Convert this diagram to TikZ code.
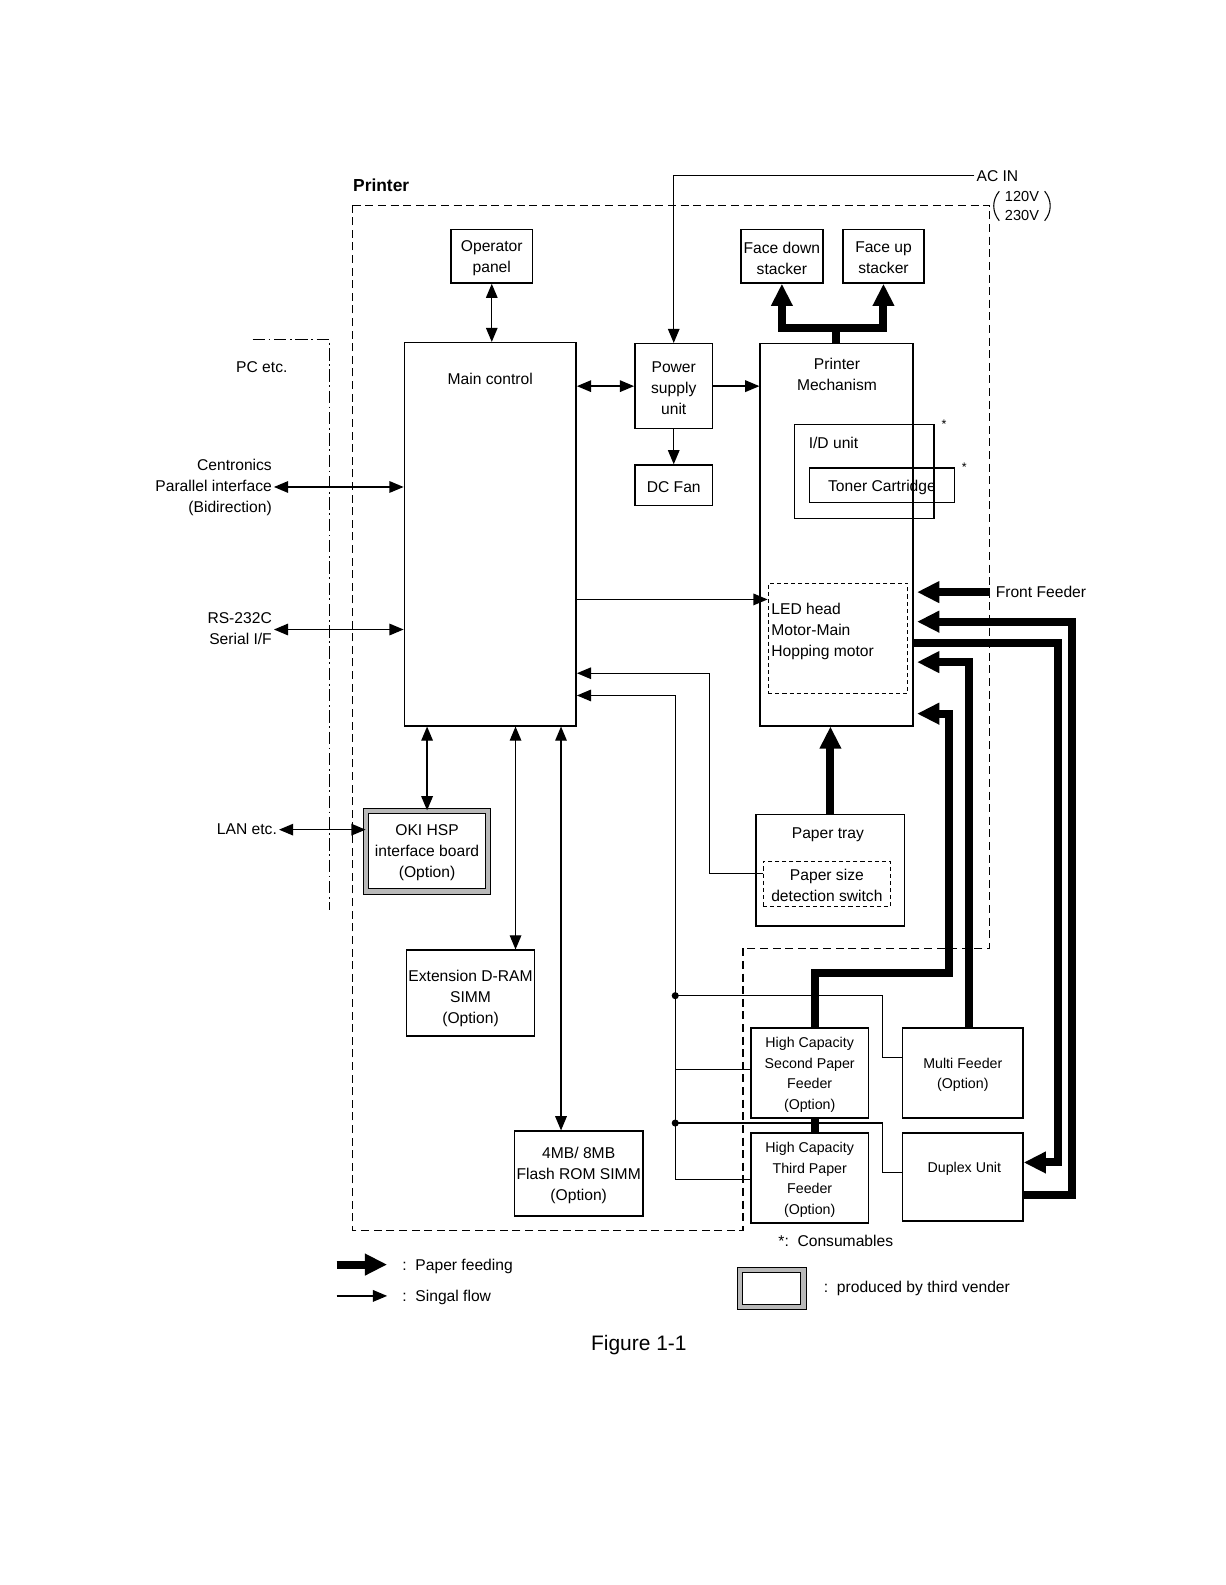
\documentclass[tikz,border=0pt]{standalone}
\usepackage{fontspec}
\setmainfont{Liberation Sans}
\usetikzlibrary{arrows.meta,fit}

\tikzset{
  box/.style={draw, line width=0.8pt, inner sep=0pt},
  dbox/.style={draw, line width=0.7pt, dash pattern=on 2.3pt off 1.7pt, inner sep=0pt},
  vendorbox/.style={draw, line width=0.6pt, double=gray!55, double distance=2.4pt, inner sep=-0.064cm},
  txt/.style={inner sep=1pt, align=center, yshift=-1pt},
  sig/.style={line width=0.8pt, -{Triangle[length=8pt,width=6.5pt]}},
  bisig/.style={line width=0.8pt, {Triangle[length=8pt,width=6.5pt]}-{Triangle[length=8pt,width=6.5pt]}},
  wire/.style={line width=0.8pt},
  feed/.style={line width=4.5pt, -{Triangle[length=12.5pt,width=11.5pt]}},
  feedline/.style={line width=4.5pt},
  frame/.style={line width=0.7pt, dash pattern=on 4.5pt off 2.6pt},
  small/.style={font=\fontsize{8}{11.7}\selectfont}
}

\begin{document}
\begin{tikzpicture}[x=0.02cm, y=-0.02cm, font=\fontsize{8.8}{11.9}\selectfont]
  \useasboundingbox (0,0) rectangle (1212,1568);

  \draw[frame] (349,203) -- (979,203) -- (979,938) -- (735,938) -- (735,1217) -- (349,1217) -- cycle;
  \node[anchor=west, inner sep=0pt, font=\fontsize{9.8}{12}\selectfont\bfseries] (printer) at (349,183) {Printer};
  \draw[line width=0.7pt, dash pattern=on 7pt off 2pt on 1pt off 2pt] (250,336) -| (326,900);
  \node[txt] (pc) at (259,361) {PC etc.};

  \node[box, fit={(446,227) (527,280)}] (panel) {};
  \node[txt] (panellbl) at (panel) {Operator\\panel};
  \node[box, fit={(733,227) (814,280)}] (fdown) {};
  \node[txt] (fdownlbl) at (fdown) {Face down\\stacker};
  \node[box, fit={(834,227) (914,280)}] (fup) {};
  \node[txt] (fuplbl) at (fup) {Face up\\stacker};
  \node[box, fit={(400,339) (570,718)}] (main) {};
  \node[txt] (mainlbl) at (485,373) {Main control};
  \node[box, fit={(628,340) (705,424)}] (psu) {};
  \node[txt] (psulbl) at (psu) {Power\\supply\\unit};
  \node[box, fit={(628,460) (705,500)}] (fan) {};
  \node[txt] (fanlbl) at (fan) {DC Fan};
  \node[box, fit={(752,340) (903,718)}] (mech) {};
  \node[txt] (mechlbl) at (828,368.5) {Printer\\Mechanism};
  \node[box, fit={(786,420) (924,513)}] (idu) {};
  \node[txt, anchor=west] (idulbl) at (798,436) {I/D unit};
  \node[box, fit={(801,463) (944,497)}] (toner) {};
  \node[txt] (tonerlbl) at (toner) {Toner Cartridge};
  \node[txt, font=\fontsize{7}{8}\selectfont] (star1) at (934,418) {*};
  \node[txt, font=\fontsize{7}{8}\selectfont] (star2) at (954,460) {*};
  \node[dbox, fit={(760,577) (898,686)}] (led) {};
  \node[txt, anchor=west, align=left] (ledlbl) at (761,623) {LED head\\Motor-Main\\Hopping motor};
  \node[box, fit={(748,806) (895,916)}] (tray) {};
  \node[txt] (traylbl) at (819,824) {Paper tray};
  \node[dbox, fit={(755,852) (881,897)}] (sizesw) {};
  \node[txt] (sizeswlbl) at (sizesw) {Paper size\\detection switch};
  \node[vendorbox, fit={(359,799) (486,885)}] (hsp) {};
  \node[txt] (hsplbl) at (hsp) {OKI HSP\\interface board\\(Option)};
  \node[box, fit={(402,940) (529,1025)}] (dram) {};
  \node[txt] (dramlbl) at ([yshift=-2pt]dram.center) {Extension D-RAM\\SIMM\\(Option)};
  \node[box, fit={(509,1119) (636,1203)}] (flash) {};
  \node[txt] (flashlbl) at (flash) {4MB/ 8MB\\Flash ROM SIMM\\(Option)};
  \node[box, fit={(743,1017) (859,1106)}] (hc2) {};
  \node[txt, small] (hc2lbl) at (hc2) {High Capacity\\Second Paper\\Feeder\\(Option)};
  \node[box, fit={(743,1121) (859,1210)}] (hc3) {};
  \node[txt, small] (hc3lbl) at (hc3) {High Capacity\\Third Paper\\Feeder\\(Option)};
  \node[box, fit={(893,1017) (1012,1106)}] (multi) {};
  \node[txt, small] (multilbl) at (multi) {Multi Feeder\\(Option)};
  \node[box, fit={(893,1121) (1012,1208)}] (duplex) {};
  \node[txt, small] (duplbl) at (954,1155) {Duplex Unit};

  \node[txt, anchor=west] (acin) at (964,172) {AC IN};
  \node[txt, inner xsep=4pt, font=\fontsize{8.2}{10.4}\selectfont] (volt) at (1011,202) {120V\\230V};
  \draw[line width=0.6pt] ([xshift=1pt,yshift=-1pt]volt.north west) to[bend right=40] ([xshift=1pt,yshift=1pt]volt.south west);
  \draw[line width=0.6pt] ([xshift=-1pt,yshift=-1pt]volt.north east) to[bend left=40] ([xshift=-1pt,yshift=1pt]volt.south east);
  \draw[sig] (acin.west) -| (psu.north);
  \draw[bisig] (panel.south) -- (panel.south |- main.north);
  \draw[bisig] (main.east |- psu.west) -- (psu.west);
  \draw[sig] (psu.east) -- (psu.east -| mech.west);
  \draw[sig] (psu.south) -- (fan.north);
  \draw[sig] (main.east |- 0,593) -- (led.west |- 0,593);
  \draw[sig] (sizesw.west |- 0,864) -| (702,666) -- (main.east |- 0,666);

  \coordinate (bustop) at (668,688);
  \coordinate (tapm) at (668,985);
  \coordinate (tapd) at (668,1111);
  \draw[sig] (hc3.west |- 0,1167) -| (bustop) -- (main.east |- bustop);
  \draw[wire] (hc2.west |- 0,1058) -- (bustop |- 0,1058);
  \draw[wire] (tapm) -| (873,1046) -- (multi.west |- 0,1046);
  \draw[wire] (tapd) -| (873,1160) -- (duplex.west |- 0,1160);
  \fill (tapm) circle (2pt) (tapd) circle (2pt);

  \draw[bisig] (hsp.north) -- (hsp.north |- main.south);
  \draw[bisig] (dram.north -| 510,0) -- (main.south -| 510,0);
  \draw[bisig] (flash.north -| 555,0) -- (main.south -| 555,0);

  \node[txt, anchor=east] (cent) at (271,480) {\begin{tabular}{@{}r@{}}Centronics\\Parallel interface\\(Bidirection)\end{tabular}};
  \draw[bisig] (cent.east) -- (main.west |- cent.east);
  \node[txt, anchor=east] (rs) at (271,621) {\begin{tabular}{@{}r@{}}RS-232C\\Serial I/F\end{tabular}};
  \draw[bisig] (rs.east) -- (main.west |- rs.east);
  \node[txt, anchor=east] (lan) at (276,819) {LAN etc.};
  \draw[bisig] (lan.east) -- (hsp.west |- lan.east);

  \draw[feed] (mech.north) -- ++(0,-15) -| (fdown.south);
  \draw[feed] (mech.north) -- ++(0,-15) -| (fup.south);
  \draw[feed] (tray.north) -- (tray.north |- mech.south);
  \node[txt, anchor=west] (fflbl) at (983,584) {Front Feeder};
  \draw[feed, shorten >=2pt] ([xshift=-0.08cm]fflbl.west) -- (mech.east |- fflbl.west);
  \draw[feed, shorten >=2pt] (duplex.east |- 0,1182) -| (1060,615) -- (mech.east |- 0,615);
  \draw[feed] (mech.east |- 0,636) -| (1047,1150) -- (duplex.east |- 0,1150);
  \draw[feed, shorten >=2pt] (multi.north -| 959,0) |- (mech.east |- 0,655);
  \draw[feed, shorten >=2pt] (hc2.north -| 806,0) -- (806,963) -| (939,706) -- (mech.east |- 0,706);
  \draw[feedline] (hc3.north -| 806,0) -- (hc2.south -| 806,0);

  \node[txt, anchor=west] (legcons) at (768,1226) {*:\ \ Consumables};
  \coordinate (legf) at (333,1251);
  \coordinate (legs) at (333,1282);
  \draw[feed] (legf) -- ++(50,0);
  \draw[sig] (legs) -- ++(50,0);
  \node[txt, anchor=west] (legfeed) at (396,1251) {:\ \ Paper feeding};
  \node[txt, anchor=west] (legsig) at (396,1282) {:\ \ Singal flow};
  \node[vendorbox, fit={(729,1253) (798,1296)}] (legbox) {};
  \node[txt, anchor=west] (legvendor) at (813,1273) {:\ \ produced by third vender};
  \node[font=\fontsize{11.8}{14}\selectfont] (fig) at (632,1331) {Figure 1-1};
\end{tikzpicture}
\end{document}
